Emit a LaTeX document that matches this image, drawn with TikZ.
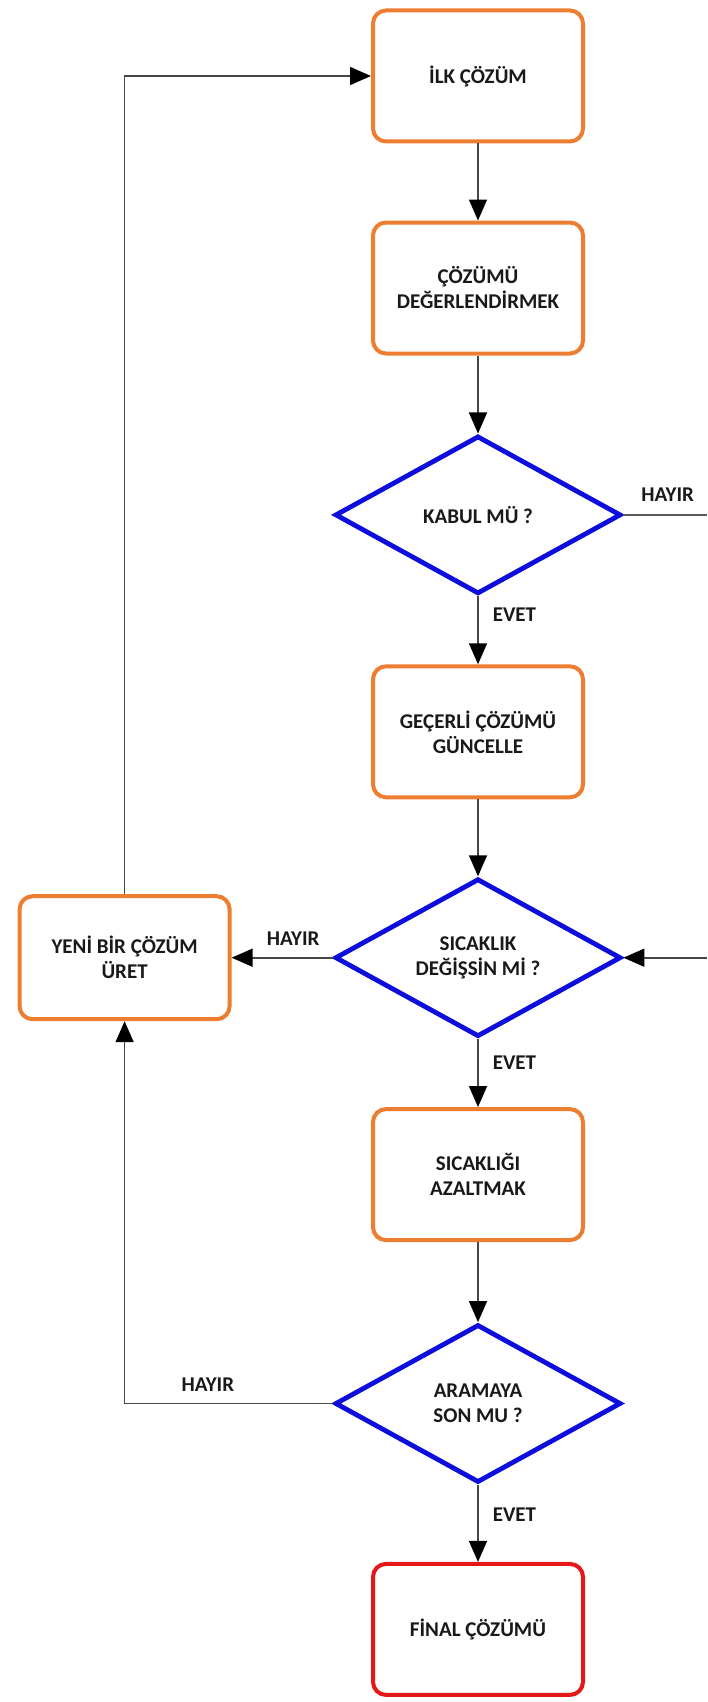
\documentclass[tikz,border=0pt]{standalone}
\usepackage{fontspec}
\setmainfont{Carlito}
\usepackage{xcolor}
\usepackage{tikz}
\usetikzlibrary{arrows.meta, positioning, shapes.geometric}
\definecolor{boxorange}{RGB}{237,125,49}
\definecolor{askblue}{RGB}{14,14,220}
\definecolor{endred}{RGB}{228,24,24}
\tikzset{
  block/.style={rectangle, rounded corners=6.5pt, draw=#1, line width=2pt,
                fill=white, text=black!90, font=\fontsize{10.5}{12.5}\selectfont\bfseries,
                minimum width=105pt, minimum height=65.5pt,
                inner sep=2pt, align=center},
  block/.default=boxorange,
  ask/.style={diamond, draw=askblue, line width=2.4pt, fill=white,
              text=black!90, font=\fontsize{10.5}{12.5}\selectfont\bfseries,
              shape aspect=1.8, minimum width=143pt, minimum height=79pt,
              inner sep=1pt, align=center},
  arr/.style={-{Triangle[length=10.5pt, width=9pt, color=black]}, line width=0.8pt, black!72},
  wire/.style={line width=0.8pt, black!65},
  lbl/.style={font=\fontsize{10.5}{12.5}\selectfont\bfseries, text=black!90, inner sep=2pt},
}
\begin{document}
\begin{tikzpicture}
  \useasboundingbox (0,0) rectangle (353.5pt,-851pt);
  \coordinate (rim) at (353.5pt,0);
  %% Main column
  \node[block] (ilk) at (239pt,-38pt) {İLK ÇÖZÜM};
  \node[block, below=38.5pt of ilk]    (deger)   {ÇÖZÜMÜ\\DEĞERLENDİRMEK};
  \node[ask,   below=39pt of deger]    (kabul)   {KABUL MÜ ?};
  \node[block, below=34pt of kabul]    (gecerli) {GEÇERLİ ÇÖZÜMÜ\\GÜNCELLE};
  \node[ask,   below=38.5pt of gecerli](sicak)   {SICAKLIK\\DEĞİŞSİN Mİ ?};
  \node[block, below=34pt of sicak]    (azalt)   {SICAKLIĞI\\AZALTMAK};
  \node[ask,   below=40pt of azalt]    (arama)   {ARAMAYA\\SON MU ?};
  \node[block=endred, below=38.5pt of arama] (final) {FİNAL ÇÖZÜMÜ};
  %% Side box
  \node[block, minimum height=61.5pt, left=50.5pt of sicak] (yeni) {YENİ BİR ÇÖZÜM\\ÜRET};
  \foreach \a/\b in {ilk/deger,deger/kabul,gecerli/sicak,azalt/arama}
    \draw[arr] (\a) -- (\b);
  \draw[arr] (kabul) -- node[lbl, right=5pt, pos=0.27] {EVET} (gecerli);
  \draw[arr] (sicak) -- node[lbl, right=5pt, pos=0.34] {EVET} (azalt);
  \draw[arr] (arama) -- node[lbl, right=5pt, pos=0.39] {EVET} (final);
  %% Loops
  \coordinate (kabulout) at (kabul.east -| rim);
  \coordinate (sicakin)  at (sicak.east -| rim);
  \draw[wire] (kabul.east) -- node[lbl, above=4.5pt, pos=0.53] {HAYIR} (kabulout);
  \draw[arr] (sicakin) -- (sicak.east);
  \draw[arr] (sicak.west) -- node[lbl, above=3.5pt, pos=0.39] {HAYIR} (yeni.east);
  \draw[arr] (arama.west) -| node[lbl, above=3.5pt, pos=0.3] {HAYIR} (yeni.south);
  \draw[arr] (yeni.north) |- (ilk.west);
\end{tikzpicture}
\end{document}
